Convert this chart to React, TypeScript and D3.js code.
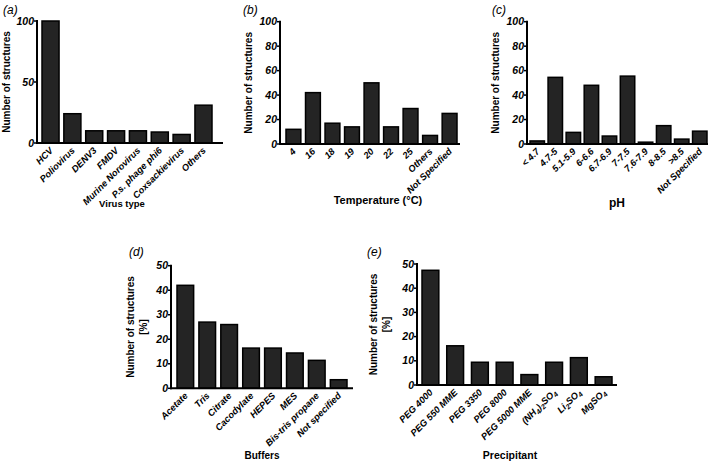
import { useEffect, useRef } from 'react';
import * as d3 from 'd3';

// (a) virus type
const virusTypes = ['HCV', 'Poliovirus', 'DENV3', 'FMDV', 'Murine Norovirus', 'P.s. phage phi6', 'Coxsackievirus', 'Others'];
const virusCounts = [100, 24, 10, 10, 10, 9, 7, 31];
const virusTicks = [0, 50, 100];

// (b) temperature
const temperatures = ['4', '16', '18', '19', '20', '22', '25', 'Others', 'Not Specified'];
const temperatureCounts = [12, 42, 17, 14, 50, 14, 29, 7, 25];
const countTicks = [0, 20, 40, 60, 80, 100];

// (c) pH
const phRanges = ['< 4.7', '4.7-5', '5.1-5.9', '6-6.6', '6.7-6.9', '7-7.5', '7.6-7.9', '8-8.5', '>8.5', 'Not Specified'];
const phCounts = [2.5, 54.5, 9.5, 48, 6.5, 55.5, 1.5, 15, 4, 10.5];

// (d) buffers
const buffers = ['Acetate', 'Tris', 'Citrate', 'Cacodylate', 'HEPES', 'MES', 'Bis-tris propane', 'Not specified'];
const bufferPercents = [42, 27, 26, 16.4, 16.4, 14.4, 11.4, 3.5];
const percentTicks = [0, 10, 20, 30, 40, 50];

// (e) precipitant
const precipitants = ['PEG 4000', 'PEG 550 MME', 'PEG 3350', 'PEG 8000', 'PEG 5000 MME', '(NH₄)₂SO₄', 'Li₂SO₄', 'MgSO₄'];
const precipitantPercents = [47.4, 16.2, 9.4, 9.4, 4.3, 9.4, 11.3, 3.4];

const FONT = '"Liberation Sans", Arial, sans-serif';

type Panel = {
  tag: string;
  tagX: number;
  tagY: number;
  cats: string[];
  vals: number[];
  ticks: number[];
  yMax: number;
  axisX: number;
  axisEnd: number;
  barsFrom: number;
  barsTo: number;
  pad: number;
  yTop: number;
  yBottom: number;
  yTitle: string[];
  yTitleX: number;
  xTitle: string;
  xTitleX: number;
  xTitleY: number;
  xTitleSize: number;
};

const panels: Panel[] = [
  {
    tag: '(a)', tagX: 3, tagY: 14,
    cats: virusTypes, vals: virusCounts, ticks: virusTicks, yMax: 100,
    axisX: 37, axisEnd: 223, barsFrom: 42, barsTo: 212, pad: 0.22,
    yTop: 21, yBottom: 143,
    yTitle: ['Number of structures'], yTitleX: 10,
    xTitle: 'Virus type', xTitleX: 122, xTitleY: 207, xTitleSize: 9.5,
  },
  {
    tag: '(b)', tagX: 243, tagY: 14,
    cats: temperatures, vals: temperatureCounts, ticks: countTicks, yMax: 100,
    axisX: 280, axisEnd: 460, barsFrom: 286, barsTo: 457, pad: 0.24,
    yTop: 21.7, yBottom: 144,
    yTitle: ['Number of structures'], yTitleX: 252,
    xTitle: 'Temperature (°C)', xTitleX: 378, xTitleY: 204, xTitleSize: 11,
  },
  {
    tag: '(c)', tagX: 492, tagY: 14,
    cats: phRanges, vals: phCounts, ticks: countTicks, yMax: 100,
    axisX: 527, axisEnd: 708, barsFrom: 530, barsTo: 707, pad: 0.2,
    yTop: 21.7, yBottom: 144,
    yTitle: ['Number of structures'], yTitleX: 499,
    xTitle: 'pH', xTitleX: 617, xTitleY: 207, xTitleSize: 12,
  },
  {
    tag: '(d)', tagX: 129, tagY: 256,
    cats: buffers, vals: bufferPercents, ticks: percentTicks, yMax: 50,
    axisX: 171, axisEnd: 353, barsFrom: 177, barsTo: 347, pad: 0.24,
    yTop: 265.7, yBottom: 388.3,
    yTitle: ['Number of structures', '[%]'], yTitleX: 134,
    xTitle: 'Buffers', xTitleX: 262, xTitleY: 459, xTitleSize: 10,
  },
  {
    tag: '(e)', tagX: 367, tagY: 256,
    cats: precipitants, vals: precipitantPercents, ticks: percentTicks, yMax: 50,
    axisX: 417, axisEnd: 617, barsFrom: 422, barsTo: 612, pad: 0.32,
    yTop: 264, yBottom: 385,
    yTitle: ['Number of structures', '[%]'], yTitleX: 377,
    xTitle: 'Precipitant', xTitleX: 510, xTitleY: 459, xTitleSize: 10.5,
  },
];

// write a label, turning unicode subscript digits into lowered small digits
function writeLabel(text: d3.Selection<SVGTextElement, unknown, null, undefined>, label: string) {
  const subs = '₀₁₂₃₄₅₆₇₈₉';
  let buf = '';
  let low = false;
  const flush = () => {
    if (buf) {
      text.append('tspan').attr('dy', low ? -2.5 : 0).text(buf);
      low = false;
    }
    buf = '';
  };
  for (const ch of label) {
    const i = subs.indexOf(ch);
    if (i >= 0) {
      flush();
      text.append('tspan').attr('dy', low ? 0 : 2.5).attr('font-size', '7px').text(String(i));
      low = true;
    } else {
      buf += ch;
    }
  }
  flush();
}

export default function App() {
  const ref = useRef<SVGSVGElement>(null);

  useEffect(() => {
    const svg = d3.select(ref.current);
    svg.selectAll('*').remove();

    panels.forEach((p) => {
      const g = svg.append('g');

      const x = d3.scaleBand<string>().domain(p.cats).range([p.barsFrom, p.barsTo]).paddingInner(p.pad).paddingOuter(0);
      const y = d3.scaleLinear().domain([0, p.yMax]).range([p.yBottom, p.yTop]);

      // bars
      g.selectAll('rect')
        .data(p.cats.map((c, i) => ({ c, v: p.vals[i] })))
        .join('rect')
        .attr('x', (d) => x(d.c)!)
        .attr('y', (d) => y(d.v))
        .attr('width', x.bandwidth())
        .attr('height', (d) => y(0) - y(d.v))
        .attr('fill', '#242424')
        .attr('stroke', '#000')
        .attr('stroke-width', 1.5);

      // axes
      g.append('line')
        .attr('x1', p.axisX).attr('x2', p.axisX)
        .attr('y1', p.yTop - 1).attr('y2', y(0) + 1)
        .attr('stroke', '#000').attr('stroke-width', 2);
      g.append('line')
        .attr('x1', p.axisX - 1).attr('x2', p.axisEnd)
        .attr('y1', y(0)).attr('y2', y(0))
        .attr('stroke', '#000').attr('stroke-width', 2);

      // y ticks
      const yt = g.selectAll('g.yt').data(p.ticks).join('g').attr('class', 'yt');
      yt.append('line')
        .attr('x1', p.axisX - 3).attr('x2', p.axisX)
        .attr('y1', (d) => y(d)).attr('y2', (d) => y(d))
        .attr('stroke', '#000').attr('stroke-width', 1.5);
      yt.append('text')
        .attr('x', p.axisX - 3)
        .attr('y', (d) => y(d) + 3.5)
        .attr('text-anchor', 'end')
        .attr('font-family', FONT)
        .attr('font-size', 10.5)
        .attr('font-weight', 'bold')
        .attr('font-style', 'italic')
        .text((d) => d);

      // x tick labels, rotated
      p.cats.forEach((c) => {
        const cx = x(c)! + x.bandwidth() / 2;
        const t = g.append('text')
          .attr('transform', `translate(${cx + 3},${y(0) + 8}) rotate(-45)`)
          .attr('text-anchor', 'end')
          .attr('font-family', FONT)
          .attr('font-size', 9.3)
          .attr('font-weight', 'bold')
          .attr('font-style', 'italic');
        writeLabel(t, c);
      });

      // y title
      const cy = (p.yTop + p.yBottom) / 2;
      p.yTitle.forEach((line, i) => {
        g.append('text')
          .attr('transform', `translate(${p.yTitleX + i * 13},${cy}) rotate(-90)`)
          .attr('text-anchor', 'middle')
          .attr('font-family', FONT)
          .attr('font-size', 10)
          .attr('font-weight', 'bold')
          .text(line);
      });

      // x title
      g.append('text')
        .attr('x', p.xTitleX).attr('y', p.xTitleY)
        .attr('text-anchor', 'middle')
        .attr('font-family', FONT)
        .attr('font-size', p.xTitleSize)
        .attr('font-weight', 'bold')
        .text(p.xTitle);

      // panel tag
      g.append('text')
        .attr('x', p.tagX).attr('y', p.tagY)
        .attr('font-family', FONT)
        .attr('font-size', 12)
        .attr('font-style', 'italic')
        .text(p.tag);
    });
  }, []);

  return (
    <div style={{ position: 'absolute', left: 0, top: 0 }}>
      <svg ref={ref} width={708} height={461} style={{ display: 'block', background: '#fff' }} />
    </div>
  );
}
